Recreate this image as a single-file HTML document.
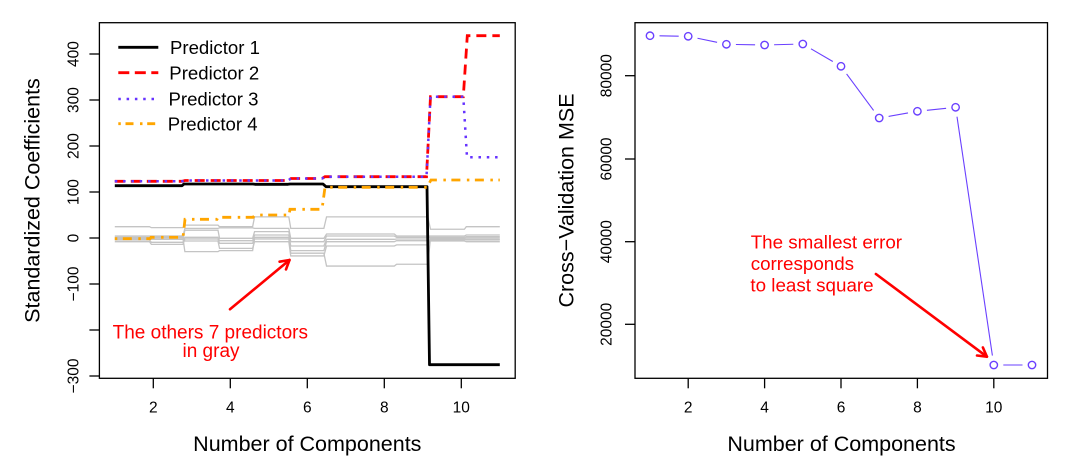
<!DOCTYPE html>
<html>
<head>
<meta charset="utf-8">
<style>
  html, body { margin: 0; padding: 0; background: #ffffff; }
  svg { display: block; }
  text { font-family: "Liberation Sans", Arial, sans-serif; }
</style>
</head>
<body>
<svg width="1071" height="470" viewBox="0 0 1071 470" xmlns="http://www.w3.org/2000/svg">
  <rect x="0" y="0" width="1071" height="470" fill="#ffffff"/>

  <!-- ================= LEFT PANEL ================= -->
  <!-- gray predictors (data coords via transform) -->
  <g transform="matrix(38.5,0,0,-0.46,76.3,238)" fill="none" stroke="#c4c4c4" stroke-width="1.3">
    <path vector-effect="non-scaling-stroke" d="M1,24.6 L1.9,24.6 L1.95,22.5 L2.77,22.5 L2.82,28 L3.68,28 L3.72,24.6 L4.58,24.6 L4.63,46 L5.52,46 L5.57,21 L6.43,21 L6.5,46 L8.26,46 L8.32,46 L9.13,46 L9.2,19 L10.08,19 L10.13,24.6 L11,24.6"/>
    <path vector-effect="non-scaling-stroke" d="M1,4.3 L1.9,4.3 L1.95,4.3 L2.77,4.3 L2.82,21 L3.68,21 L3.72,22 L4.58,22 L4.63,21 L5.52,21 L5.57,-0.7 L6.43,-0.7 L6.5,8.7 L8.26,8.7 L8.32,4.3 L9.13,4.3 L9.2,4.3 L10.08,4.3 L10.13,6.5 L11,6.5"/>
    <path vector-effect="non-scaling-stroke" d="M1,1.5 L1.9,1.5 L1.95,-2.9 L2.77,-2.9 L2.82,17 L3.68,17 L3.72,-0.7 L4.58,-0.7 L4.63,13.8 L5.52,13.8 L5.57,-8 L6.43,-8 L6.5,4.3 L8.26,4.3 L8.32,1.5 L9.13,1.5 L9.2,1.5 L10.08,1.5 L10.13,2.9 L11,2.9"/>
    <path vector-effect="non-scaling-stroke" d="M1,-4.3 L1.9,-4.3 L1.95,-9.4 L2.77,-9.4 L2.82,1.5 L3.68,1.5 L3.72,-5.8 L4.58,-5.8 L4.63,6.5 L5.52,6.5 L5.57,-17.4 L6.43,-17.4 L6.5,-2.9 L8.26,-2.9 L8.32,-2.2 L9.13,-2.2 L9.2,-2.2 L10.08,-2.2 L10.13,-4.3 L11,-4.3"/>
    <path vector-effect="non-scaling-stroke" d="M1,-8 L1.9,-8 L1.95,-13.8 L2.77,-13.8 L2.82,-2 L3.68,-2 L3.72,-11.6 L4.58,-11.6 L4.63,1.5 L5.52,1.5 L5.57,-27.5 L6.43,-27.5 L6.5,-8 L8.26,-8 L8.32,-5.8 L9.13,-5.8 L9.2,-6.5 L10.08,-6.5 L10.13,-8 L11,-8"/>
    <path vector-effect="non-scaling-stroke" d="M1,0 L1.9,0 L1.95,2 L2.77,2 L2.82,-6.5 L3.68,-6.5 L3.72,-22.5 L4.58,-22.5 L4.63,-8 L5.52,-8 L5.57,-39 L6.43,-39 L6.5,-17.4 L8.26,-17.4 L8.32,-15 L9.13,-15 L9.2,-4 L10.08,-4 L10.13,-3 L11,-3"/>
    <path vector-effect="non-scaling-stroke" d="M1,-2 L1.9,-2 L1.95,0 L2.77,0 L2.82,-29.7 L3.68,-29.7 L3.72,-27.5 L4.58,-27.5 L4.63,-2 L5.52,-2 L5.57,-33 L6.43,-33 L6.5,-61 L8.26,-61 L8.32,-57 L9.13,-57 L9.2,-1 L10.08,-1 L10.13,0 L11,0"/>
  </g>

  <!-- Predictor 1 (black) -->
  <polyline fill="none" stroke="#000000" stroke-width="2.8" stroke-linejoin="round"
    points="114.8,185.7 182,185.7 184,184 253,184 255,184.3 288,184.3 290,184 323,184 326,186.7 427,186.7 429.5,364.7 499.8,364.7"/>
  <!-- Predictor 2 (red dashed) -->
  <polyline fill="none" stroke="#ff0000" stroke-width="2.8" stroke-dasharray="10 6"
    points="114.8,181.3 182,181.3 185,180.5 288,180.5 291,178.5 322,178.5 325,176.7 426.5,176.7 430.5,96.7 463.3,96.7 467.3,35.7 499.8,35.7"/>
  <!-- Predictor 3 (blue dotted) -->
  <polyline fill="none" stroke="#6633ff" stroke-width="2.5" stroke-dasharray="2.5 5.8"
    points="114.8,181.3 182,181.3 185,180.5 288,180.5 291,178.5 322,178.5 325,176.7 426.5,176.7 430.5,96.7 463.3,96.7 467,157.3 499.8,157.3"/>
  <!-- Predictor 4 (orange dot-dash) -->
  <polyline fill="none" stroke="#ffa500" stroke-width="2.8" stroke-dasharray="2.5 5.5 9 6.5"
    points="114.8,238.7 150,238.7 151,237.3 183,237.3 185,219.3 217,219.3 218,217.3 253,217.3 255,215 289,215 290,209.3 322,209.3 325,187.3 427,187.3 431,180 499.8,180"/>

  <!-- box -->
  <rect x="99.4" y="22.7" width="415.8" height="355.6" fill="none" stroke="#000" stroke-width="1.3"/>

  <!-- x ticks -->
  <g stroke="#000" stroke-width="1.3">
    <line x1="153.3" y1="378.3" x2="153.3" y2="388.3"/>
    <line x1="230.3" y1="378.3" x2="230.3" y2="388.3"/>
    <line x1="307.3" y1="378.3" x2="307.3" y2="388.3"/>
    <line x1="384.3" y1="378.3" x2="384.3" y2="388.3"/>
    <line x1="461.3" y1="378.3" x2="461.3" y2="388.3"/>
    <!-- y ticks -->
    <line x1="89.4" y1="54" x2="99.4" y2="54"/>
    <line x1="89.4" y1="100" x2="99.4" y2="100"/>
    <line x1="89.4" y1="146" x2="99.4" y2="146"/>
    <line x1="89.4" y1="192" x2="99.4" y2="192"/>
    <line x1="89.4" y1="238" x2="99.4" y2="238"/>
    <line x1="89.4" y1="284" x2="99.4" y2="284"/>
    <line x1="89.4" y1="330" x2="99.4" y2="330"/>
    <line x1="89.4" y1="376" x2="99.4" y2="376"/>
  </g>
  <g font-size="15.5" fill="#000" text-anchor="middle">
    <text x="153.3" y="412.7">2</text>
    <text x="230.3" y="412.7">4</text>
    <text x="307.3" y="412.7">6</text>
    <text x="384.3" y="412.7">8</text>
    <text x="461.3" y="412.7">10</text>
    <text transform="translate(78.3,54) rotate(-90)">400</text>
    <text transform="translate(78.3,100) rotate(-90)">300</text>
    <text transform="translate(78.3,146) rotate(-90)">200</text>
    <text transform="translate(78.3,192) rotate(-90)">100</text>
    <text transform="translate(78.3,238) rotate(-90)">0</text>
    <text transform="translate(78.3,284) rotate(-90)">−100</text>
    <text transform="translate(78.3,376) rotate(-90)">−300</text>
  </g>
  <text x="307.3" y="451" font-size="21.5" text-anchor="middle" fill="#000">Number of Components</text>
  <text transform="translate(39.3,200.5) rotate(-90)" font-size="21.5" text-anchor="middle" fill="#000">Standardized Coefficients</text>

  <!-- legend -->
  <line x1="118.3" y1="47.3" x2="158.3" y2="47.3" stroke="#000" stroke-width="2.8"/>
  <line x1="118.3" y1="72.7" x2="158.3" y2="72.7" stroke="#ff0000" stroke-width="2.8" stroke-dasharray="11 5.5"/>
  <line x1="118.3" y1="99" x2="158.3" y2="99" stroke="#6633ff" stroke-width="2.5" stroke-dasharray="2.5 5.8"/>
  <line x1="118.3" y1="123.7" x2="158.3" y2="123.7" stroke="#ffa500" stroke-width="2.8" stroke-dasharray="2.5 4.7 8 6.5"/>
  <g font-size="18.6" fill="#000">
    <text x="170" y="54">Predictor 1</text>
    <text x="169.3" y="79.4">Predictor 2</text>
    <text x="168.5" y="105.7">Predictor 3</text>
    <text x="167.7" y="130.4">Predictor 4</text>
  </g>

  <!-- left annotation -->
  <g stroke="#ff0000" stroke-width="2.6" fill="none" stroke-linecap="round">
    <line x1="230" y1="309.3" x2="289.5" y2="260"/>
    <polyline points="279.6,261.7 289.5,260 286,269.4" stroke-linejoin="round"/>
  </g>
  <g font-size="19" fill="#ff0000" text-anchor="middle">
    <text x="210.3" y="338.3">The others 7 predictors</text>
    <text x="211" y="356.8">in gray</text>
  </g>

  <!-- ================= RIGHT PANEL ================= -->
  <g stroke="#6a40ff" stroke-width="1.1" fill="none">
    <line x1="659.5" y1="35.85" x2="678.7" y2="36.15"/>
    <line x1="697.5" y1="38.25" x2="717.1" y2="42.35"/>
    <line x1="735.9" y1="44.5" x2="755.1" y2="44.8"/>
    <line x1="774.1" y1="44.75" x2="793.3" y2="44.25"/>
    <line x1="811.0" y1="48.8" x2="832.8" y2="61.5"/>
    <line x1="846.6" y1="73.9" x2="873.6" y2="110.4"/>
    <line x1="888.6" y1="116.4" x2="908.0" y2="112.9"/>
    <line x1="926.9" y1="110.3" x2="946.1" y2="108.3"/>
    <line x1="957.0" y1="116.7" x2="992.4" y2="355.6"/>
    <line x1="1003.3" y1="365" x2="1022.5" y2="365"/>
  </g>
  <g stroke="#6a40ff" stroke-width="1.4" fill="none">
    <circle cx="650" cy="35.7" r="3.7"/>
    <circle cx="688.2" cy="36.3" r="3.7"/>
    <circle cx="726.4" cy="44.3" r="3.7"/>
    <circle cx="764.6" cy="45" r="3.7"/>
    <circle cx="802.8" cy="44" r="3.7"/>
    <circle cx="841" cy="66.3" r="3.7"/>
    <circle cx="879.2" cy="118" r="3.7"/>
    <circle cx="917.4" cy="111.3" r="3.7"/>
    <circle cx="955.6" cy="107.3" r="3.7"/>
    <circle cx="993.8" cy="365" r="3.7"/>
    <circle cx="1032" cy="365" r="3.7"/>
  </g>

  <rect x="635" y="22.7" width="412.5" height="355.6" fill="none" stroke="#000" stroke-width="1.3"/>

  <g stroke="#000" stroke-width="1.3">
    <line x1="688.2" y1="378.3" x2="688.2" y2="388.3"/>
    <line x1="764.6" y1="378.3" x2="764.6" y2="388.3"/>
    <line x1="841" y1="378.3" x2="841" y2="388.3"/>
    <line x1="917.4" y1="378.3" x2="917.4" y2="388.3"/>
    <line x1="993.8" y1="378.3" x2="993.8" y2="388.3"/>
    <line x1="625" y1="75.7" x2="635" y2="75.7"/>
    <line x1="625" y1="159" x2="635" y2="159"/>
    <line x1="625" y1="241.7" x2="635" y2="241.7"/>
    <line x1="625" y1="324.3" x2="635" y2="324.3"/>
  </g>
  <g font-size="15.5" fill="#000" text-anchor="middle">
    <text x="688.2" y="412.7">2</text>
    <text x="764.6" y="412.7">4</text>
    <text x="841" y="412.7">6</text>
    <text x="917.4" y="412.7">8</text>
    <text x="993.8" y="412.7">10</text>
    <text transform="translate(611.7,75.7) rotate(-90)">80000</text>
    <text transform="translate(611.7,159) rotate(-90)">60000</text>
    <text transform="translate(611.7,241.7) rotate(-90)">40000</text>
    <text transform="translate(611.7,324.3) rotate(-90)">20000</text>
  </g>
  <text x="841.5" y="451" font-size="21.5" text-anchor="middle" fill="#000">Number of Components</text>
  <text transform="translate(573.3,200.5) rotate(-90)" font-size="21.5" text-anchor="middle" fill="#000">Cross−Validation MSE</text>

  <!-- right annotation -->
  <g stroke="#ff0000" stroke-width="2.6" fill="none" stroke-linecap="round">
    <line x1="875.9" y1="274" x2="986.9" y2="356.7"/>
    <polyline points="982.9,347.5 986.9,356.7 977,355.5" stroke-linejoin="round"/>
  </g>
  <g font-size="18.8" fill="#ff0000">
    <text x="750.7" y="248.3">The smallest error</text>
    <text x="750.7" y="270">corresponds</text>
    <text x="750.4" y="291.7">to least square</text>
  </g>
</svg>
</body>
</html>
